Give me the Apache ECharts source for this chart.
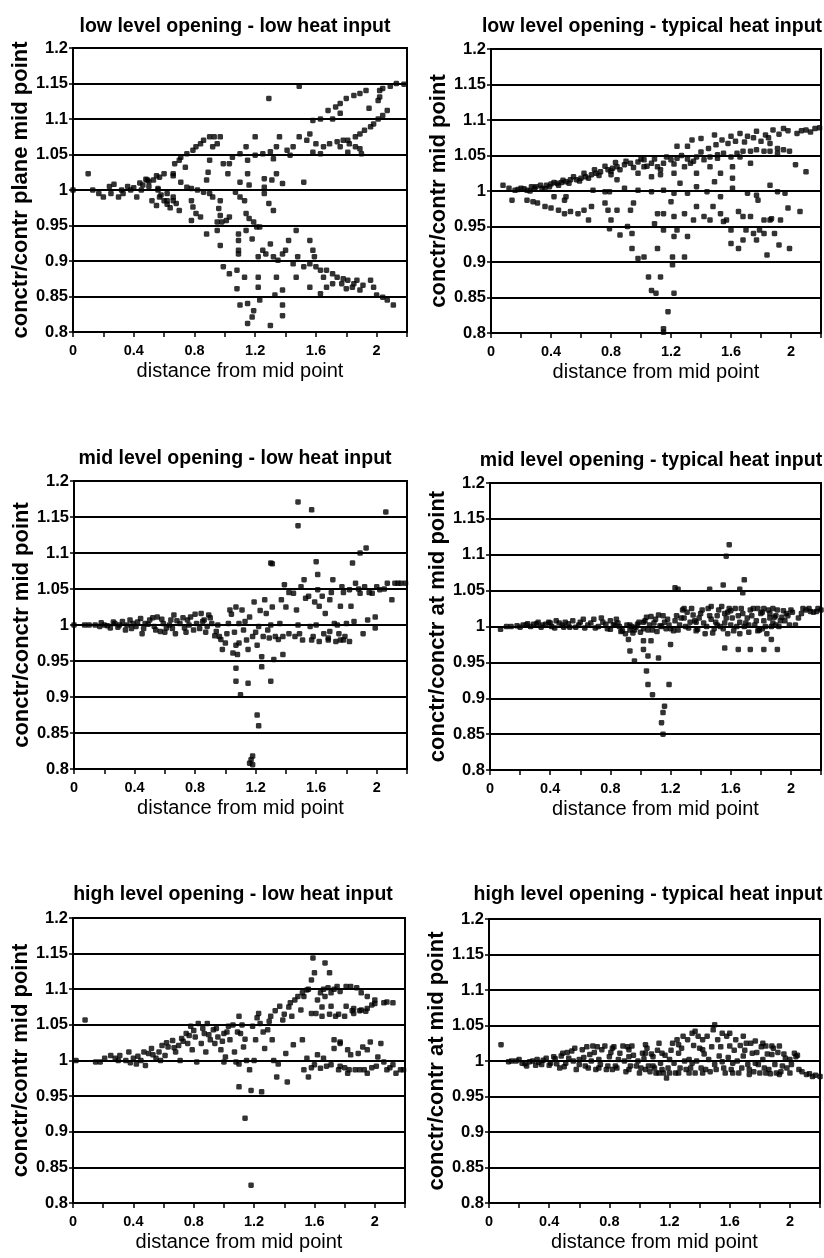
<!DOCTYPE html>
<html>
<head>
<meta charset="utf-8">
<script src="https://cdn.jsdelivr.net/npm/echarts@6/dist/echarts.min.js"></script>
<style>
  html, body { margin: 0; padding: 0; background: #fff; }
  #main { width: 824px; height: 1258px; }
</style>
</head>
<body>
<div id="main"></div>
<script>
// panel titles and y axis names
var titles = [
  'low level opening - low heat input',
  'low level opening - typical heat input',
  'mid level opening - low heat input',
  'mid level opening - typical heat input',
  'high level opening - low heat input',
  'high level opening - typical heat input'
];
var yNames = [
  'conctr/contr plane mid point',
  'conctr/contr mid point',
  'conctr/conctr mid point',
  'conctr/conctr at mid point',
  'conctr/contr mid point',
  'conctr/contr at mid point'
];
var xName = 'distance from mid point';
var xLabels = ['0', '0.4', '0.8', '1.2', '1.6', '2'];
var yLabels = ['0.8', '0.85', '0.9', '0.95', '1', '1.05', '1.1', '1.15', '1.2'];

// [distance, ratio] points per panel
var lowLow = [
  [0,1.0],[0.10,1.023],[0.13,1.0],[0.17,0.995],[0.2,0.99],[0.24,1.005],[0.25,0.995],[0.27,1.008],[0.3,0.99],[0.32,1.0],
  [0.33,0.995],[0.36,1.005],[0.38,1.0],[0.4,1.003],[0.42,0.99],[0.44,1.01],[0.45,1.0],[0.48,1.015],[0.5,1.012],[0.52,0.985],
  [0.5,1.005],[0.55,1.02],[0.56,1.0],[0.58,0.993],[0.6,0.985],[0.62,0.98],[0.64,0.975],[0.66,1.02],[0.66,0.99],
  [1.29,1.129],[1.49,1.146],[2.13,1.15],[2.18,1.149],[2.09,1.146],[2.04,1.143],[2.02,1.14],[2.02,1.131],[2.01,1.126],
  [1.93,1.14],[1.89,1.136],[1.85,1.133],[1.80,1.129],[1.76,1.122],[1.73,1.117],[1.68,1.112],[1.76,1.108],[1.71,1.10],
  [1.63,1.10],[1.58,1.098],[1.95,1.115],[2.07,1.112],[2.04,1.105],[2.01,1.10],[1.98,1.093],[1.96,1.089],[1.92,1.084],
  [1.89,1.079],[1.86,1.075],[1.81,1.07],[1.49,1.075],[1.56,1.079],[1.54,1.07],[1.60,1.065],[1.65,1.061],[1.69,1.065],
  [1.74,1.068],[1.78,1.07],[1.76,1.061],[1.63,1.051],[1.58,1.053],[1.45,1.061],[1.41,1.056],[1.43,1.049],[1.34,1.061],
  [1.30,1.054],[1.25,1.051],[1.32,1.044],[1.36,1.075],[1.81,1.053],[1.86,1.061],[1.90,1.051],[1.82,1.065],[1.89,1.058],
  [1.20,1.075],[1.20,1.049],[1.14,1.061],[1.15,1.042],[1.10,1.051],[1.05,1.046],[1.03,1.037],[0.99,1.037],[1.02,1.023],
  [0.81,1.061],[0.84,1.065],[0.86,1.07],[0.90,1.075],[0.93,1.075],[0.97,1.075],[0.95,1.065],[0.92,1.061],[0.79,1.056],
  [0.75,1.051],[0.71,1.046],[0.70,1.042],[0.74,1.032],[0.67,1.037],[0.66,1.023],[0.60,1.023],[0.57,1.018],[0.53,1.014],
  [0.49,1.014],[0.46,1.007],[0.90,1.042],[0.89,1.025],[0.88,1.014],[1.15,1.023],[1.10,1.011],[1.16,1.007],[1.26,1.016],
  [1.31,1.014],[1.34,1.023],[1.38,1.009],[1.52,1.011],[1.26,1.004],[0.71,1.011],[0.75,1.004],[0.78,1.002],[0.82,1.0],
  [0.86,0.997],[0.90,0.995],[0.92,0.99],[0.97,0.985],[1.07,0.997],[1.10,0.99],[1.13,0.985],[1.26,0.995],[0.62,0.995],
  [0.66,0.985],[0.68,0.981],[0.70,0.971],[0.56,1.002],[0.57,0.99],[0.55,0.978],[0.62,0.985],[0.78,0.985],[0.79,0.976],
  [0.81,0.967],[0.84,0.962],[0.78,0.957],[0.96,0.974],[0.97,0.964],[0.98,0.955],[1.01,0.957],[1.03,0.962],[0.95,0.955],
  [1.14,0.967],[1.16,0.96],[1.19,0.955],[1.21,0.948],[1.23,0.948],[1.29,0.981],[1.32,0.971],[1.47,0.943],[0.88,0.938],
  [0.95,0.943],[0.97,0.922],[1.09,0.938],[1.09,0.929],[1.18,0.931],[1.14,0.943],[1.09,0.915],[1.09,0.91],[0.99,0.892],
  [1.03,0.882],[1.08,0.887],[1.13,0.877],[1.08,0.861],[1.10,0.838],[1.15,0.84],[1.19,0.83],[1.15,0.812],[1.18,0.821],
  [1.30,0.809],[1.22,0.906],[1.25,0.915],[1.30,0.924],[1.27,0.91],[1.32,0.906],[1.35,0.901],[1.38,0.91],[1.42,0.929],
  [1.40,0.915],[1.22,0.877],[1.22,0.863],[1.23,0.845],[1.34,0.877],[1.33,0.852],[1.38,0.859],[1.38,0.838],[1.38,0.823],
  [1.47,0.877],[1.45,0.896],[1.48,0.906],[1.52,0.892],[1.56,0.929],[1.58,0.915],[1.59,0.906],[1.56,0.896],[1.60,0.892],
  [1.63,0.887],[1.65,0.877],[1.67,0.887],[1.71,0.882],[1.74,0.877],[1.78,0.875],[1.81,0.873],[1.85,0.868],[1.87,0.873],
  [1.91,0.866],[1.96,0.873],[1.98,0.863],[2.00,0.852],[2.04,0.849],[2.07,0.845],[2.11,0.838],[1.71,0.868],[1.67,0.863],
  [1.56,0.863],[1.63,0.854],[1.80,0.861],[1.89,0.859],[1.77,0.868],[1.84,0.863]
];
var lowTypical = [
  [0.08,1.008],[0.14,0.987],[0.16,1.001],[0.20,1.004],[0.24,1.001],[0.27,1.006],[0.30,1.006],[0.34,1.004],[0.37,1.008],
  [0.40,1.01],[0.44,1.011],[0.47,1.012],[0.50,1.013],[0.53,1.016],[0.57,1.016],[0.60,1.018],[0.63,1.02],[0.67,1.023],
  [0.70,1.025],[0.73,1.027],[0.78,1.03],[0.81,1.032],[0.84,1.034],[0.89,1.037],[0.93,1.039],[0.98,1.041],[1.02,1.044],
  [1.07,1.039],[1.11,1.034],[1.15,1.039],[1.20,1.044],[1.24,1.046],[1.29,1.034],[1.33,1.039],[1.37,1.048],
  [0.24,0.987],[0.28,0.985],[0.31,0.983],[0.36,0.978],[0.40,0.976],[0.45,0.973],[0.49,0.968],[0.53,0.971],[0.58,0.968],
  [0.62,0.973],[0.67,0.978],[0.65,0.959],[0.42,0.992],[0.49,0.987],[0.50,0.992],
  [0.68,1.001],[0.76,0.999],[0.79,0.999],[0.89,1.004],[0.98,1.001],[1.07,0.999],[1.15,1.001],[1.22,0.997],[1.26,1.011],
  [1.31,0.997],[1.37,1.006],[1.44,0.999],[1.49,1.013],[1.53,0.992],[1.61,1.018],[1.61,1.004],[1.71,0.997],[1.77,0.994],
  [1.86,1.008],[1.91,0.999],[1.96,0.997],[1.98,0.976],[2.06,0.971],[2.03,1.037],[2.10,1.027],
  [0.76,0.983],[0.78,0.973],[0.84,0.973],[0.80,0.959],[0.79,0.947],[0.86,0.938],[0.93,0.973],[0.95,0.983],[0.91,0.95],
  [0.94,0.94],[0.94,0.919],[0.98,0.905],[1.02,0.907],[1.05,0.879],[1.07,0.86],[1.10,0.856],[1.13,0.879],[1.11,0.919],
  [1.15,0.945],[1.09,0.954],[1.11,0.968],[1.15,0.968],[1.20,0.985],[1.22,0.964],[1.24,0.945],[1.22,0.936],[1.21,0.907],
  [1.21,0.896],[1.29,0.907],[1.22,0.856],[1.18,0.83],[1.15,0.806],[1.15,0.801],[1.31,0.936],[1.29,0.968],[1.35,0.959],
  [1.37,0.978],[1.42,0.964],[1.46,0.959],[1.48,0.978],[1.53,0.968],[1.57,0.959],[1.60,0.945],[1.60,0.926],[1.65,0.919],
  [1.68,0.931],[1.70,0.945],[1.73,0.964],[1.75,0.94],[1.77,0.931],[1.79,0.945],[1.82,0.94],[1.84,0.91],[1.86,0.959],
  [1.89,0.94],[1.92,0.924],[1.99,0.919],[1.68,0.964],[1.65,0.971],[1.55,0.957],[1.78,0.987],[1.82,0.959],[1.87,0.961],
  [1.93,0.959],
  [1.24,1.063],[1.31,1.063],[1.34,1.072],[1.40,1.074],[1.49,1.079],[1.54,1.072],[1.60,1.077],[1.66,1.081],[1.71,1.077],
  [1.77,1.084],[1.83,1.079],[1.88,1.086],[1.95,1.088],[2.04,1.081],[2.10,1.086],[2.16,1.088],[2.19,1.089],
  [1.42,1.044],[1.46,1.048],[1.51,1.051],[1.55,1.053],[1.60,1.048],[1.64,1.053],[1.68,1.056],[1.73,1.056],[1.77,1.058],
  [1.82,1.056],[1.86,1.056],[1.91,1.053],[1.95,1.058],[1.99,1.056],[1.86,1.067],[1.91,1.06],[1.66,1.048],[1.73,1.039],
  [1.02,1.034],[1.07,1.02],[0.98,1.025],[0.84,1.016],[0.80,1.023],[1.13,1.023],[1.22,1.025],[1.37,1.025],[1.46,1.034],
  [1.53,1.025],[1.51,1.046],[1.61,1.034],
  [0.12,1.004],[0.18,1.002],[0.22,1.003],[0.26,1.0],[0.29,1.004],[0.33,1.008],[0.36,1.003],[0.39,1.006],[0.42,1.012],
  [0.45,1.008],[0.48,1.015],[0.52,1.011],[0.55,1.02],[0.59,1.014],[0.62,1.025],[0.65,1.018],[0.69,1.03],[0.72,1.022],
  [0.76,1.035],[0.80,1.028],[0.83,1.04],[0.86,1.03],[0.90,1.042],[0.95,1.033],[1.00,1.045],[1.04,1.035],[1.09,1.045],
  [1.13,1.03],[1.17,1.048],[1.22,1.038],[1.27,1.05],[1.31,1.045],[1.35,1.042],[1.40,1.055],[1.45,1.06],[1.50,1.065],
  [1.58,1.067],[1.63,1.07],[1.69,1.069],[1.75,1.075],[1.80,1.07],[1.85,1.075],[1.92,1.08],[1.98,1.085],[2.07,1.085],
  [2.13,1.083]
];
var midLow = [
  [0,1.0],[0.07,1.0],[0.14,1.0],[0.17,0.998],[0.20,1.0],[0.24,0.996],[0.27,1.002],[0.30,1.0],[0.34,0.993],[0.37,1.007],
  [0.39,1.002],[0.41,0.998],[0.44,1.009],[0.45,0.988],[0.47,1.002],[0.50,1.007],[0.53,0.998],[0.55,1.011],[0.57,0.991],
  [0.59,1.002],[0.61,0.996],[0.64,1.007],[0.66,1.014],[0.67,0.988],[0.70,1.002],[0.73,0.996],[0.75,1.007],[0.77,1.011],
  [0.79,0.993],[0.81,1.002],[0.84,1.016],[0.86,1.007],[0.88,0.998],[0.89,1.014],[0.91,1.002],[0.94,0.991],[0.96,0.984],
  [0.98,0.966],[1.01,0.988],[1.02,1.002],[1.03,1.021],[1.05,0.961],[1.07,0.972],[1.07,1.025],[1.09,1.002],[1.11,1.021],
  [1.12,0.993],[1.14,0.979],[1.15,0.966],[1.16,1.011],[1.18,0.984],[1.19,1.032],[1.21,0.972],[1.22,0.998],[1.25,0.984],
  [1.26,1.035],[1.27,1.016],[1.28,0.993],[1.29,0.982],[1.31,1.025],[1.33,0.984],[1.36,1.002],[1.37,1.035],[1.38,0.984],
  [1.40,1.025],[1.39,1.056],[1.42,0.988],[1.45,1.044],[1.47,1.021],[1.49,0.988],[1.50,1.053],[1.52,1.063],[1.53,1.037],
  [1.56,0.998],[1.58,0.984],[1.59,1.032],[1.61,1.049],[1.62,1.026],[1.65,0.988],[1.66,1.016],[1.68,0.982],[1.69,1.035],
  [1.71,1.063],[1.72,1.002],[1.75,0.988],[1.76,1.026],[1.77,1.053],[1.79,0.984],[1.80,1.002],[1.82,1.049],[1.83,1.026],
  [1.86,1.058],[1.89,1.044],[1.91,0.988],[1.92,1.053],[1.94,1.007],[1.97,1.044],[1.99,0.996],[2.00,1.053],[2.02,1.049],
  [2.07,1.058],[2.10,1.035],[2.12,1.058],[2.16,1.058],[2.19,1.058],[1.99,1.011],
  [1.46,0.984],[1.51,0.979],[1.57,0.979],[1.62,0.977],[1.68,0.979],[1.73,0.977],[1.78,0.979],[1.82,0.977],[1.69,0.991],
  [1.76,0.979],
  [1.48,1.171],[1.48,1.138],[1.57,1.16],[1.60,1.088],[1.61,1.07],[1.84,1.086],[1.89,1.10],[1.93,1.107],[1.30,1.086],
  [1.31,1.085],[2.06,1.157],
  [1.08,0.959],[1.07,0.94],[1.07,0.922],[1.15,0.919],[1.10,0.903],[1.24,0.942],[1.24,0.956],[1.30,0.922],[1.32,0.952],
  [1.38,0.959],[1.21,0.875],[1.22,0.86],[1.17,0.813],[1.18,0.818],[1.16,0.808],[1.18,0.806],
  [0.10,1.0],[0.18,1.003],[0.22,0.999],[0.26,1.004],[0.29,0.997],[0.32,1.005],[0.35,1.0],[0.38,0.995],[0.42,1.004],
  [0.46,0.995],[0.49,1.001],[0.52,1.01],[0.54,0.993],[0.58,1.008],[0.60,0.99],[0.63,1.0],[0.65,0.995],[0.68,1.006],
  [0.72,1.01],[0.74,0.99],[0.76,1.0],[0.80,1.015],[0.83,0.995],[0.85,1.005],[0.87,0.99],[0.90,1.01],[0.93,0.985],
  [0.95,1.0],[0.97,0.98],[1.00,0.975],[1.04,1.015],[1.06,0.99],[1.09,0.975],[1.13,1.005],[1.20,0.99],[1.23,1.02],
  [1.30,1.0],[1.35,0.98],[1.42,1.045],[1.48,1.0],[1.55,1.04],[1.60,1.0],[1.64,1.04],[1.70,1.045],[1.74,1.0],[1.78,1.045],
  [1.85,1.005],[1.88,1.05],[1.95,1.045],[2.05,1.05],[2.14,1.058]
];
var midTypical = [
  [0.07,0.996],[0.11,1.0],[0.14,1.0],[0.18,1.001],[0.22,1.002],[0.25,1.004],[0.29,1.003],[0.32,1.006],[0.35,1.002],
  [0.39,1.006],[0.41,1.0],[0.44,1.008],[0.48,1.002],[0.50,1.006],[0.53,0.999],[0.55,1.008],[0.59,1.002],[0.62,1.01],
  [0.65,1.002],[0.69,1.01],[0.72,1.0],[0.75,1.006],[0.78,0.997],[0.82,1.002],[0.84,1.01],[0.86,1.0],[0.88,0.994],
  [0.91,1.002],[0.93,0.995],[0.95,0.991],[0.97,0.999],[0.99,1.006],[1.02,0.997],[1.04,1.013],[1.06,1.002],[1.08,0.995],
  [1.10,1.01],[1.13,1.001],[1.15,1.015],[1.17,0.997],[1.19,1.002],[1.22,0.994],[1.24,1.015],[1.26,1.002],[1.28,1.023],
  [1.30,1.0],[1.33,1.006],[1.35,1.016],[1.37,0.994],[1.39,1.012],[1.41,1.023],[1.44,1.0],[1.46,1.015],[1.48,0.991],
  [1.50,1.006],[1.52,1.023],[1.55,0.997],[1.57,1.012],[1.59,1.025],[1.60,1.002],[1.62,0.994],[1.65,1.015],[1.67,1.025],
  [1.69,1.0],[1.71,1.012],[1.73,1.023],[1.76,1.002],[1.78,0.994],[1.80,1.018],[1.82,1.008],[1.85,1.023],[1.87,1.0],
  [1.89,1.013],[1.91,1.023],[1.93,1.008],[1.97,1.018],[2.00,1.023],[2.03,1.002],[2.07,1.018],[2.10,1.023],[2.13,1.021],
  [2.17,1.021],[2.20,1.023],
  [0.80,1.008],[0.83,1.002],[0.93,1.002],[1.02,1.006],[1.07,1.014],[1.16,1.006],[1.29,1.012],[1.37,1.006],[1.47,1.028],
  [1.51,1.002],[1.56,1.018],[1.60,1.022],[1.66,1.006],[1.72,1.002],[1.78,1.025],[1.81,0.997],[1.86,1.012],[1.90,1.002],
  [1.94,1.013],[1.99,1.002],[1.82,1.025],[1.88,1.025],[1.29,1.025],
  [0.92,0.982],[0.93,0.966],[0.96,0.952],[1.02,0.968],[1.02,0.98],[1.07,0.98],[1.04,0.938],[1.05,0.919],[1.08,0.905],
  [1.05,0.959],[1.12,0.956],[1.16,0.889],[1.15,0.88],[1.14,0.866],[1.15,0.85],[1.19,0.919],[1.20,0.975],[1.23,1.054],
  [1.25,1.052],[1.46,1.052],[1.56,0.97],[1.55,1.058],[1.57,1.098],[1.59,1.114],[1.66,1.052],[1.69,1.065],[1.68,1.047],
  [1.65,0.968],[1.73,0.968],[1.82,0.968],[1.87,0.982],[1.91,0.968],
  [0.20,0.999],[0.24,1.002],[0.27,1.0],[0.31,1.004],[0.34,0.999],[0.37,1.003],[0.40,1.005],[0.43,0.998],[0.46,1.005],
  [0.49,0.999],[0.52,1.004],[0.57,0.999],[0.60,1.006],[0.63,0.998],[0.67,1.005],[0.70,0.998],[0.74,1.012],[0.77,1.003],
  [0.80,0.996],[0.85,1.005],[0.87,0.993],[0.90,0.99],[0.94,1.0],[0.96,0.995],[0.98,1.003],[1.00,0.992],[1.03,1.008],
  [1.05,0.995],[1.09,1.005],[1.11,0.993],[1.12,1.016],[1.14,1.0],[1.18,1.01],[1.20,0.997],[1.23,1.008],[1.25,0.995],
  [1.27,1.012],[1.31,1.02],[1.32,0.998],[1.34,1.025],[1.36,1.008],[1.38,0.996],[1.40,1.018],[1.42,1.005],[1.43,0.99],
  [1.45,1.025],[1.47,1.01],[1.49,0.997],[1.51,1.015],[1.53,1.0],[1.54,1.028],[1.56,1.005],[1.58,0.99],[1.58,1.02],
  [1.61,1.012],[1.63,1.025],[1.64,1.0],[1.66,0.99],[1.68,1.018],[1.70,1.005],[1.72,0.992],[1.74,1.015],[1.75,1.025],
  [1.77,1.008],[1.79,0.995],[1.81,1.02],[1.83,1.0],[1.84,0.99],[1.86,1.018],[1.88,1.005],[1.90,1.015],[1.92,1.0],
  [1.95,1.022],[1.96,1.008],[1.98,1.015],[2.01,1.02],[2.05,1.012],[2.08,1.025],[2.12,1.025],[2.15,1.02],[2.18,1.025]
];
var highLow = [
  [0.08,1.057],[0.02,1.0],[0.15,0.998],[0.18,0.998],[0.21,1.003],[0.25,1.007],[0.28,1.003],[0.31,1.007],[0.35,1.0],
  [0.37,1.012],[0.40,1.003],[0.42,0.995],[0.45,1.0],[0.48,0.993],[0.50,1.01],[0.52,1.017],[0.55,1.003],[0.57,1.012],
  [0.59,1.021],[0.61,1.007],[0.63,1.019],[0.66,1.028],[0.68,1.012],[0.70,1.021],[0.71,1.0],[0.72,1.031],[0.75,1.038],
  [0.76,1.024],[0.78,1.048],[0.79,1.015],[0.81,1.033],[0.82,0.998],[0.83,1.052],[0.85,1.024],[0.87,1.038],[0.88,1.012],
  [0.89,1.052],[0.91,1.029],[0.93,1.043],[0.94,1.024],[0.96,1.033],[0.98,1.015],[1.00,1.038],[1.01,1.005],[1.03,1.048],
  [1.04,1.029],[1.07,1.012],[1.08,0.998],[1.10,1.062],[1.11,1.038],[1.13,1.019],[1.15,1.0],[1.17,0.987],[1.19,1.048],
  [1.21,1.029],[1.23,1.066],[1.24,1.052],[1.27,1.017],[1.29,1.043],[1.31,1.062],[1.32,1.029],[1.33,1.0],[1.35,0.977],
  [1.37,1.076],[1.39,1.057],[1.41,1.01],[1.42,0.97],[1.44,1.081],[1.45,1.062],[1.46,1.022],[1.49,1.09],[1.51,1.071],
  [1.52,1.029],[1.53,0.987],[1.55,1.099],[1.56,0.977],[1.58,1.113],[1.59,1.144],[1.60,1.123],[1.61,1.066],[1.62,1.008],
  [1.64,1.095],[1.65,1.062],[1.66,1.003],[1.67,1.137],[1.69,1.102],[1.70,1.123],[1.71,1.076],[1.73,1.017],[1.74,1.062],
  [1.75,1.104],[1.76,0.987],[1.77,1.024],[1.80,1.062],[1.81,1.104],[1.82,0.982],[1.84,1.008],[1.86,1.066],[1.88,1.102],
  [1.90,0.987],[1.92,1.019],[1.94,1.069],[1.95,0.982],[1.97,1.026],[2.00,1.085],[2.02,1.005],[2.04,1.024],[2.06,1.081],
  [2.08,0.987],[2.12,1.081],[2.14,0.982],[2.19,0.987],
  [1.55,1.003],[1.60,0.994],[1.64,0.989],[1.71,0.994],[1.77,0.992],[1.83,0.987],[1.87,0.987],[1.93,0.987],[2.01,0.992],
  [2.06,0.998],[2.12,0.994],[2.17,0.987],[1.89,1.01],[1.95,1.015],[1.82,1.015],[1.73,1.029],[1.77,1.026],
  [1.84,1.104],[1.91,1.095],[1.95,1.09],[1.81,1.076],[1.86,1.073],[1.91,1.071],[1.95,1.073],[1.77,1.097],[1.71,1.095],
  [1.67,1.09],[1.62,1.085],[1.58,1.066],[1.53,1.09],
  [1.10,0.963],[1.18,0.958],[1.25,0.956],[1.14,0.919],[1.18,0.825],
  [0.30,1.0],[0.38,0.997],[0.43,1.006],[0.47,1.012],[0.53,1.008],[0.58,1.0],[0.62,1.025],[0.67,1.018],[0.73,1.027],
  [0.77,1.035],[0.80,1.042],[0.86,1.045],[0.90,1.036],[0.95,1.045],[0.99,1.027],[1.02,1.04],[1.06,1.05],[1.09,1.04],
  [1.12,1.05],[1.14,1.03],[1.22,1.06],[1.26,1.04],[1.30,1.055],[1.34,1.07],[1.40,1.065],[1.43,1.075],[1.47,1.085],
  [1.52,1.095],[1.56,1.1],[1.66,1.1],[1.73,1.1],[1.85,1.07],[1.98,1.078],[2.08,1.082],[1.65,1.075],[1.70,1.065],
  [1.76,1.065],[1.90,1.07],[2.00,1.08],[1.00,0.998],[1.10,0.995],[1.20,1.0],[1.36,0.995],[1.58,0.99],[1.68,0.992],
  [1.80,0.99],[1.98,0.99],[2.10,0.99]
];
var highTypical = [
  [0.08,1.023],[0.13,0.999],[0.18,1.0],[0.22,0.997],[0.25,0.993],[0.29,1.0],[0.32,1.002],[0.35,0.995],[0.38,1.004],
  [0.41,0.997],[0.43,1.006],[0.47,0.99],[0.49,1.011],[0.51,0.997],[0.53,1.004],[0.55,1.014],[0.58,0.988],[0.60,1.002],
  [0.62,1.016],[0.64,0.993],[0.67,1.009],[0.69,1.021],[0.71,0.988],[0.73,1.002],[0.75,1.016],[0.78,0.988],[0.80,1.006],
  [0.82,1.018],[0.84,0.993],[0.86,1.002],[0.89,1.021],[0.91,0.985],[0.93,1.006],[0.95,1.021],[0.98,0.993],[1.00,0.983],
  [1.02,1.011],[1.04,1.023],[1.06,0.993],[1.09,1.006],[1.11,0.983],[1.13,1.025],[1.15,0.988],[1.18,0.976],[1.20,1.002],
  [1.22,1.025],[1.24,0.983],[1.26,1.011],[1.29,1.035],[1.31,0.988],[1.33,1.002],[1.35,1.039],[1.37,0.983],[1.40,1.018],
  [1.42,1.03],[1.44,0.988],[1.46,1.002],[1.49,1.044],[1.51,0.988],[1.52,1.03],[1.53,1.007],[1.55,1.039],[1.57,0.983],
  [1.60,1.021],[1.62,0.997],[1.64,1.03],[1.66,0.983],[1.69,1.007],[1.71,1.025],[1.73,0.988],[1.75,1.011],[1.77,1.028],
  [1.80,0.983],[1.82,1.002],[1.84,1.021],[1.86,0.988],[1.88,1.009],[1.91,0.983],[1.93,1.021],[1.95,0.993],[1.97,1.004],
  [2.00,0.983],[2.03,1.011],[2.06,0.988],[2.11,0.981],[2.15,0.978],[2.20,0.978],[1.50,1.051],[1.37,1.042],[1.42,1.016],
  [0.73,0.99],[0.82,0.988],[0.93,0.988],[1.04,0.988],[1.13,0.983],[1.20,0.983],[1.26,0.983],[1.33,0.983],[1.42,0.983],
  [1.62,0.983],[1.73,0.981],[1.84,0.983],[1.93,0.981],[0.93,1.016],[1.04,1.011],[1.15,1.011],[1.26,1.023],[1.60,1.039],
  [1.69,1.035],[1.82,1.025],[1.88,1.021],[1.09,0.993],[1.35,0.997],[1.55,0.999],[1.77,0.997],[2.00,1.002],[2.04,1.006],
  [0.15,1.0],[0.20,1.002],[0.24,0.996],[0.27,0.999],[0.31,0.994],[0.33,0.998],[0.36,1.001],[0.40,0.994],[0.44,1.003],
  [0.45,0.996],[0.48,1.007],[0.50,0.992],[0.52,1.012],[0.56,1.0],[0.57,1.018],[0.60,0.995],[0.63,1.005],[0.65,1.02],
  [0.66,0.99],[0.68,1.0],[0.70,1.012],[0.72,1.02],[0.74,0.995],[0.77,1.021],[0.79,0.993],[0.81,1.012],[0.83,1.02],
  [0.85,0.99],[0.87,1.011],[0.90,1.0],[0.92,1.02],[0.94,0.993],[0.96,1.008],[0.99,1.0],[1.01,0.99],[1.03,1.003],
  [1.05,1.018],[1.07,0.985],[1.08,1.01],[1.10,0.99],[1.12,1.015],[1.14,0.997],[1.16,0.983],[1.17,1.008],[1.19,0.99],
  [1.21,1.015],[1.23,0.997],[1.25,1.03],[1.27,0.99],[1.28,1.018],[1.30,1.0],[1.32,1.03],[1.34,0.99],[1.36,1.022],
  [1.38,1.0],[1.39,1.035],[1.41,0.99],[1.43,1.01],[1.45,1.035],[1.47,0.985],[1.48,1.02],[1.50,0.995],[1.54,1.02],
  [1.56,0.99],[1.58,1.035],[1.59,1.005],[1.61,0.988],[1.63,1.015],[1.65,1.0],[1.67,1.022],[1.68,0.99],[1.70,1.015],
  [1.72,0.995],[1.74,1.025],[1.76,0.985],[1.78,1.012],[1.79,0.995],[1.81,1.02],[1.83,0.99],[1.85,1.01],[1.87,0.982],
  [1.89,1.018],[1.90,0.995],[1.92,1.012],[1.94,0.985],[1.96,1.01],[1.98,0.99],[2.01,0.995],[2.05,1.008],[2.08,0.985],
  [2.13,0.982],[2.17,0.98]
];
var panels = [lowLow, lowTypical, midLow, midTypical, highLow, highTypical];

// plot boxes in pixels: left, top, width, height
var boxes = [
  [73, 48, 334, 284],
  [491, 49, 332, 284],
  [74, 481, 333, 288],
  [490, 483, 333, 287],
  [73, 918, 332, 285],
  [489, 919, 331, 284]
];
var titleCenters = [[230, 12], [647, 12], [230, 444], [646, 446], [228, 880], [643, 880]];
var yNameGaps = [40, 36, 36, 35, 37, 36];

var font = "'Liberation Sans', Arial, sans-serif";
var ink = '#000';

var grids = [], xAxes = [], yAxes = [], series = [], titleList = [];
for (var i = 0; i < 6; i++) {
  var b = boxes[i];
  grids.push({
    left: b[0], top: b[1], width: b[2], height: b[3],
    show: true, borderColor: ink, borderWidth: 2, backgroundColor: '#fff'
  });
  titleList.push({
    text: titles[i],
    left: titleCenters[i][0], top: titleCenters[i][1],
    textAlign: 'center',
    textStyle: { fontFamily: font, fontSize: 19.5, fontWeight: 'bold', color: ink }
  });
  xAxes.push({
    gridIndex: i, type: 'value', min: 0, max: 2.2, interval: 0.2,
    name: xName, nameLocation: 'middle', nameGap: 29,
    nameTextStyle: { fontFamily: font, fontSize: 20, color: ink },
    axisLine: { show: true, lineStyle: { color: ink, width: 2 } },
    axisTick: { show: true, length: 5, lineStyle: { color: ink, width: 1.5 } },
    splitLine: { show: false },
    axisLabel: {
      margin: 11, fontFamily: font, fontSize: 14.5, fontWeight: 'bold', color: ink,
      formatter: function (v) {
        var t = Math.round(v * 10);
        if (t % 4 !== 0) return '';
        var s = String(t / 10);
        return xLabels.indexOf(s) >= 0 ? s : '';
      }
    }
  });
  yAxes.push({
    gridIndex: i, type: 'value', min: 0.8, max: 1.2, interval: 0.05,
    name: yNames[i], nameLocation: 'middle', nameGap: yNameGaps[i], nameRotate: 90,
    nameTextStyle: { fontFamily: font, fontSize: 22, fontWeight: 'bold', color: ink },
    axisLine: { show: true, lineStyle: { color: ink, width: 2 } },
    axisTick: { show: true, length: 4, lineStyle: { color: ink, width: 1.5 } },
    splitLine: { show: true, lineStyle: { color: ink, width: 2 } },
    axisLabel: {
      margin: 5, fontFamily: font, fontSize: 16.5, fontWeight: 'bold', color: ink,
      formatter: function (v) {
        var s = String(Math.round(v * 100) / 100);
        return yLabels.indexOf(s) >= 0 ? s : '';
      }
    }
  });
  series.push({
    type: 'scatter', xAxisIndex: i, yAxisIndex: i,
    data: panels[i],
    symbol: 'roundRect', symbolSize: 5.5,
    itemStyle: { color: ink },
    silent: true
  });
}

var myChart = echarts.init(document.getElementById('main'));
myChart.setOption({
  backgroundColor: '#fff',
  animation: false,
  title: titleList,
  grid: grids,
  xAxis: xAxes,
  yAxis: yAxes,
  series: series
});
</script>
</body>
</html>
